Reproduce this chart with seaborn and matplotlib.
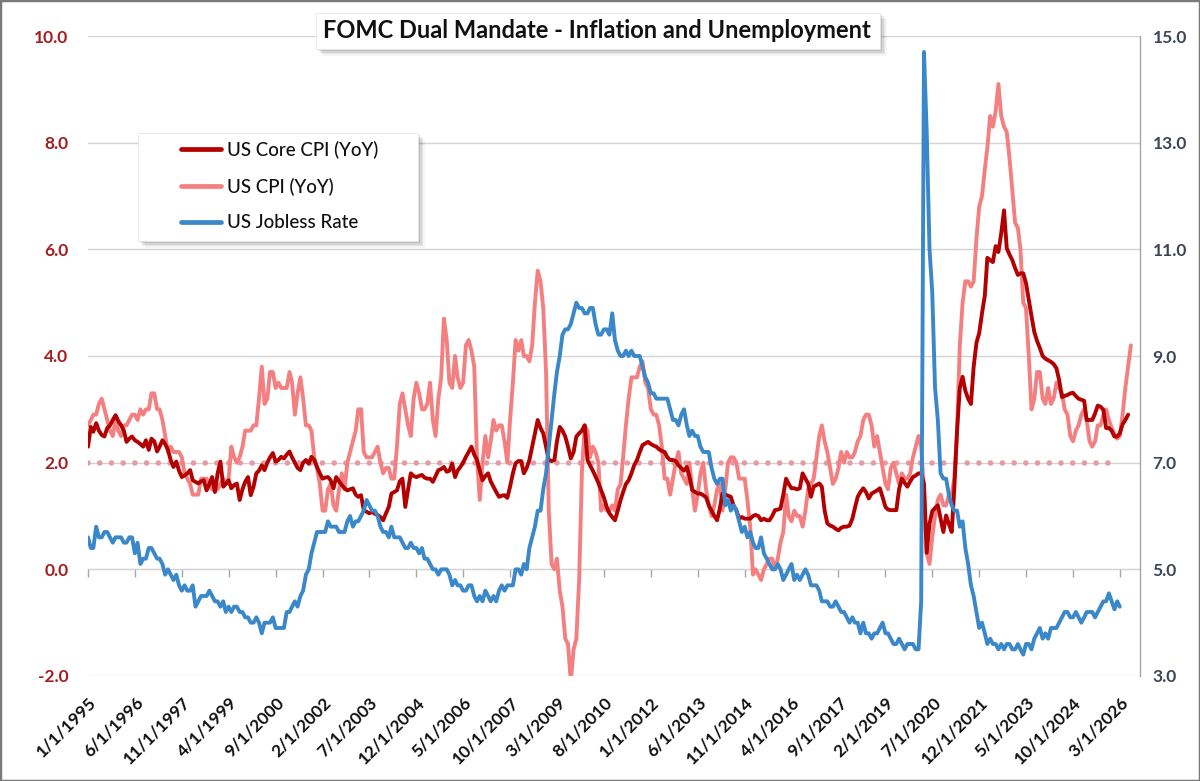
import numpy as np
import pandas as pd
import matplotlib
matplotlib.use("Agg")
import matplotlib.pyplot as plt
import matplotlib.dates as mdates
from matplotlib.patches import Rectangle
from matplotlib.lines import Line2D
import seaborn as sns

# Series titles
core_label = "US Core CPI (YoY)"
cpi_label = "US CPI (YoY)"
jobless_label = "US Jobless Rate"
chart_title = "FOMC Dual Mandate - Inflation and Unemployment"

# US Core CPI (YoY), monthly from Jan 1995
core_cpi = (
    [2.30, 2.67, 2.58, 2.74, 2.60, 2.52, 2.49, 2.65, 2.70, 2.80, 2.89, 2.78]    # 1995
    + [2.70, 2.60, 2.39, 2.45, 2.49, 2.42, 2.39, 2.35, 2.30, 2.42, 2.24, 2.45]  # 1996
    + [2.40, 2.21, 2.30, 2.42, 2.35, 2.24, 2.05, 1.92, 2.02, 1.85, 1.73, 1.76]  # 1997
    + [1.80, 1.86, 1.67, 1.64, 1.61, 1.65, 1.67, 1.48, 1.60, 1.73, 1.45, 1.80]  # 1998
    + [2.02, 1.55, 1.60, 1.67, 1.52, 1.58, 1.61, 1.30, 1.50, 1.64, 1.73, 1.39]  # 1999
    + [1.55, 1.80, 1.85, 1.95, 1.86, 2.00, 2.10, 2.18, 2.02, 2.05, 2.11, 2.08]  # 2000
    + [2.15, 2.21, 2.10, 2.00, 1.90, 1.86, 2.00, 2.05, 1.98, 2.11, 2.05, 1.92]  # 2001
    + [1.80, 1.70, 1.72, 1.73, 1.67, 1.52, 1.73, 1.65, 1.58, 1.52, 1.48, 1.50]  # 2002
    + [1.52, 1.40, 1.36, 1.39, 1.11, 1.08, 1.05, 1.08, 1.04, 1.02, 0.98, 0.92]  # 2003
    + [1.05, 1.17, 1.42, 1.45, 1.48, 1.65, 1.70, 1.17, 1.50, 1.80, 1.75, 1.73]  # 2004
    + [1.75, 1.77, 1.72, 1.70, 1.70, 1.64, 1.75, 1.86, 1.88, 1.92, 1.83, 1.85]  # 2005
    + [1.98, 1.73, 1.85, 1.92, 2.00, 2.11, 2.20, 2.30, 2.15, 2.05, 1.85, 1.67]  # 2006
    + [1.75, 1.80, 1.65, 1.55, 1.45, 1.36, 1.38, 1.39, 1.34, 1.55, 1.80, 1.99]  # 2007
    + [2.03, 2.03, 1.80, 1.90, 2.05, 2.30, 2.55, 2.80, 2.65, 2.55, 2.30, 2.05]  # 2008
    + [2.03, 2.05, 2.40, 2.67, 2.60, 2.49, 2.30, 2.08, 2.20, 2.49, 2.55, 2.60]  # 2009
    + [2.70, 2.05, 1.95, 1.85, 1.74, 1.62, 1.49, 1.35, 1.17, 1.05, 0.98, 0.92]  # 2010
    + [1.10, 1.30, 1.45, 1.60, 1.67, 1.80, 1.95, 2.05, 2.20, 2.33, 2.36, 2.39]  # 2011
    + [2.35, 2.32, 2.30, 2.25, 2.22, 2.20, 2.10, 2.05, 2.05, 2.03, 1.95, 1.90]  # 2012
    + [1.85, 1.92, 1.75, 1.49, 1.45, 1.42, 1.42, 1.39, 1.35, 1.20, 1.10, 1.00]  # 2013
    + [0.92, 1.15, 1.42, 1.40, 1.38, 1.36, 1.20, 1.11, 0.95, 0.98, 0.95, 0.95]  # 2014
    + [0.95, 1.00, 1.02, 1.00, 0.92, 0.95, 0.92, 0.92, 1.00, 1.11, 1.12, 1.14]  # 2015
    + [1.40, 1.70, 1.60, 1.52, 1.52, 1.50, 1.52, 1.80, 1.70, 1.61, 1.36, 1.55]  # 2016
    + [1.58, 1.61, 1.55, 1.10, 0.86, 0.82, 0.80, 0.76, 0.73, 0.78, 0.80, 0.80]  # 2017
    + [0.82, 0.95, 1.15, 1.36, 1.45, 1.52, 1.45, 1.33, 1.42, 1.45, 1.48, 1.52]  # 2018
    + [1.35, 1.17, 1.12, 1.11, 1.11, 1.11, 1.50, 1.70, 1.62, 1.55, 1.65, 1.73]  # 2019
    + [1.76, 1.80, 1.80, 1.60, 0.31, 0.85, 1.09, 1.15, 1.20, 0.95, 0.70, 1.01]  # 2020
    + [0.85, 0.70, 1.50, 2.60, 3.40, 3.61, 3.35, 3.20, 3.10, 3.80, 4.25, 4.43]  # 2021
    + [4.80, 5.13, 5.84, 5.80, 5.76, 6.06, 5.95, 6.30, 6.73, 6.02, 5.90, 5.80]  # 2022
    + [5.65, 5.52, 5.55, 5.55, 5.37, 5.05, 4.75, 4.45, 4.28, 4.15, 4.00, 3.95]  # 2023
    + [3.92, 3.89, 3.85, 3.77, 3.55, 3.23, 3.25, 3.27, 3.30, 3.31, 3.25, 3.20]  # 2024
    + [3.18, 3.16, 2.80, 2.80, 2.80, 2.92, 3.07, 3.05, 2.99, 2.65, 2.65, 2.60]  # 2025
    + [2.49, 2.49, 2.55, 2.72, 2.80, 2.90]                                      # 2026
)

# US CPI (YoY), monthly from Jan 1995 (series runs one month behind the label)
headline_cpi = (
    [2.7]
    + [2.8, 2.9, 2.9, 3.1, 3.2, 3.0, 2.8, 2.6, 2.5, 2.8, 2.6, 2.5]
    + [2.7, 2.7, 2.8, 2.9, 2.9, 2.8, 3.0, 2.9, 3.0, 3.0, 3.3, 3.3]
    + [3.0, 3.0, 2.8, 2.5, 2.2, 2.3, 2.2, 2.2, 2.2, 2.1, 1.8, 1.7]
    + [1.6, 1.4, 1.4, 1.4, 1.7, 1.7, 1.7, 1.6, 1.5, 1.5, 1.5, 1.6]
    + [1.7, 1.6, 1.7, 2.3, 2.1, 2.0, 2.1, 2.3, 2.6, 2.6, 2.6, 2.7]
    + [2.7, 3.2, 3.8, 3.1, 3.2, 3.7, 3.7, 3.4, 3.5, 3.4, 3.4, 3.4]
    + [3.7, 3.5, 2.9, 3.3, 3.6, 3.2, 2.7, 2.7, 2.6, 2.1, 1.9, 1.6]
    + [1.1, 1.1, 1.5, 1.6, 1.2, 1.1, 1.5, 1.8, 1.5, 2.0, 2.2, 2.4]
    + [2.6, 3.0, 3.0, 2.2, 2.1, 2.1, 2.1, 2.2, 2.3, 2.0, 1.8, 1.9]
    + [1.9, 1.7, 1.7, 2.3, 3.1, 3.3, 3.0, 2.7, 2.5, 3.2, 3.5, 3.3]
    + [3.0, 3.0, 3.1, 3.5, 2.8, 2.5, 3.2, 3.6, 4.7, 4.3, 3.5, 3.4]
    + [4.0, 3.6, 3.4, 3.5, 4.2, 4.3, 4.1, 3.8, 2.1, 1.3, 2.0, 2.5]
    + [2.1, 2.4, 2.8, 2.6, 2.7, 2.7, 2.4, 2.0, 2.8, 3.5, 4.3, 4.1]
    + [4.3, 4.0, 4.0, 3.9, 4.2, 5.0, 5.6, 5.4, 4.9, 3.7, 1.1, 0.1]
    + [0.0, 0.2, -0.4, -0.7, -1.3, -1.4, -2.1, -1.5, -1.3, -0.2, 1.8, 2.7]
    + [2.6, 2.1, 2.3, 2.2, 2.0, 1.1, 1.2, 1.1, 1.1, 1.2, 1.1, 1.5]
    + [1.6, 2.1, 2.7, 3.2, 3.6, 3.6, 3.6, 3.8, 3.9, 3.5, 3.4, 3.0]
    + [2.9, 2.9, 2.7, 2.3, 1.7, 1.7, 1.4, 1.7, 2.0, 2.2, 1.8, 1.7]
    + [1.6, 2.0, 1.5, 1.1, 1.4, 1.8, 2.0, 1.5, 1.2, 1.0, 1.2, 1.5]
    + [1.6, 1.1, 1.5, 2.0, 2.1, 2.1, 2.0, 1.7, 1.7, 1.7, 1.3, 0.8]
    + [-0.1, 0.0, -0.1, -0.2, 0.0, 0.1, 0.2, 0.2, 0.0, 0.2, 0.5, 0.7]
    + [1.4, 1.0, 0.9, 1.1, 1.0, 1.0, 0.8, 1.1, 1.5, 1.6, 1.7, 2.1]
    + [2.5, 2.7, 2.4, 2.2, 1.9, 1.6, 1.7, 1.9, 2.2, 2.0, 2.2, 2.1]
    + [2.1, 2.2, 2.4, 2.5, 2.8, 2.9, 2.9, 2.7, 2.3, 2.5, 2.2, 1.9]
    + [1.6, 1.5, 1.9, 2.0, 1.8, 1.6, 1.8, 1.7, 1.7, 1.8, 2.1, 2.3]
    + [2.5, 2.3, 1.5, 0.3, 0.1, 0.6, 1.0, 1.3, 1.4, 1.2, 1.2, 1.4]
    + [1.4, 1.7, 2.6, 4.2, 5.0, 5.4, 5.4, 5.3, 5.4, 6.2, 6.8, 7.0]
    + [7.5, 7.9, 8.5, 8.3, 8.6, 9.1, 8.5, 8.3, 8.2, 7.7, 7.1, 6.5]
    + [6.4, 6.0, 5.0, 4.9, 4.0, 3.0, 3.2, 3.7, 3.7, 3.2, 3.1, 3.4]
    + [3.1, 3.2, 3.5, 3.4, 3.3, 3.0, 2.9, 2.5, 2.4, 2.6, 2.7, 2.9]
    + [3.0, 2.8, 2.4, 2.3, 2.4, 2.7, 2.7, 2.9, 3.0, 2.8, 2.65, 2.55]
    + [2.45, 2.5, 2.9, 3.4, 3.8, 4.2]
)

# US unemployment rate (%), monthly from Jan 1995
jobless_rate = (
    [5.6, 5.4, 5.4, 5.8, 5.6, 5.6, 5.7, 5.7, 5.6, 5.5, 5.6, 5.6]
    + [5.6, 5.5, 5.5, 5.6, 5.6, 5.3, 5.5, 5.1, 5.2, 5.2, 5.4, 5.4]
    + [5.3, 5.2, 5.2, 5.1, 4.9, 5.0, 4.9, 4.8, 4.9, 4.7, 4.6, 4.7]
    + [4.6, 4.6, 4.7, 4.3, 4.4, 4.5, 4.5, 4.5, 4.6, 4.5, 4.4, 4.4]
    + [4.3, 4.4, 4.2, 4.3, 4.2, 4.3, 4.3, 4.2, 4.2, 4.1, 4.1, 4.0]
    + [4.0, 4.1, 4.0, 3.8, 4.0, 4.0, 4.0, 4.1, 3.9, 3.9, 3.9, 3.9]
    + [4.2, 4.2, 4.3, 4.4, 4.3, 4.5, 4.6, 4.9, 5.0, 5.3, 5.5, 5.7]
    + [5.7, 5.7, 5.7, 5.9, 5.8, 5.8, 5.8, 5.7, 5.7, 5.7, 5.9, 6.0]
    + [5.8, 5.9, 5.9, 6.0, 6.1, 6.3, 6.2, 6.1, 6.1, 6.0, 5.8, 5.7]
    + [5.7, 5.6, 5.8, 5.6, 5.6, 5.6, 5.5, 5.4, 5.4, 5.5, 5.4, 5.4]
    + [5.3, 5.4, 5.2, 5.2, 5.1, 5.0, 5.0, 4.9, 5.0, 5.0, 5.0, 4.9]
    + [4.7, 4.8, 4.7, 4.7, 4.6, 4.6, 4.7, 4.7, 4.5, 4.4, 4.5, 4.4]
    + [4.6, 4.5, 4.4, 4.5, 4.4, 4.6, 4.7, 4.6, 4.7, 4.7, 4.7, 5.0]
    + [5.0, 4.9, 5.1, 5.0, 5.4, 5.6, 5.8, 6.1, 6.1, 6.5, 6.8, 7.3]
    + [7.8, 8.3, 8.7, 9.0, 9.4, 9.5, 9.5, 9.6, 9.8, 10.0, 9.9, 9.9]
    + [9.8, 9.8, 9.9, 9.9, 9.6, 9.4, 9.4, 9.5, 9.5, 9.4, 9.8, 9.3]
    + [9.1, 9.0, 9.0, 9.1, 9.0, 9.1, 9.0, 9.0, 9.0, 8.8, 8.6, 8.5]
    + [8.3, 8.3, 8.2, 8.2, 8.2, 8.2, 8.2, 8.0, 7.8, 7.8, 7.7, 7.9]
    + [8.0, 7.7, 7.5, 7.6, 7.5, 7.5, 7.3, 7.2, 7.2, 7.2, 6.9, 6.7]
    + [6.6, 6.7, 6.7, 6.2, 6.3, 6.1, 6.2, 6.1, 5.9, 5.7, 5.8, 5.6]
    + [5.7, 5.5, 5.4, 5.4, 5.6, 5.3, 5.2, 5.1, 5.0, 5.0, 5.1, 5.0]
    + [4.8, 4.9, 5.0, 5.1, 4.8, 4.9, 4.8, 4.9, 5.0, 4.9, 4.7, 4.7]
    + [4.7, 4.6, 4.4, 4.4, 4.4, 4.3, 4.3, 4.4, 4.3, 4.2, 4.2, 4.1]
    + [4.0, 4.1, 4.0, 4.0, 3.8, 4.0, 3.8, 3.8, 3.7, 3.8, 3.8, 3.9]
    + [4.0, 3.8, 3.8, 3.7, 3.6, 3.6, 3.7, 3.6, 3.5, 3.6, 3.6, 3.6]
    + [3.5, 3.5, 4.4, 14.7, 13.2, 11.0, 10.2, 8.4, 7.8, 6.8, 6.7, 6.7]
    + [6.4, 6.2, 6.1, 6.1, 5.8, 5.9, 5.4, 5.1, 4.7, 4.5, 4.2, 3.9]
    + [4.0, 3.8, 3.6, 3.7, 3.6, 3.6, 3.5, 3.6, 3.5, 3.6, 3.6, 3.5]
    + [3.5, 3.6, 3.5, 3.4, 3.6, 3.6, 3.5, 3.7, 3.8, 3.9, 3.7, 3.8]
    + [3.7, 3.9, 3.9, 3.9, 4.0, 4.1, 4.2, 4.2, 4.1, 4.1, 4.2, 4.1]
    + [4.0, 4.1, 4.2, 4.2, 4.2, 4.1, 4.2, 4.3, 4.4, 4.4, 4.55, 4.4]
    + [4.25, 4.4, 4.3]
)

first_month = "1995-01-01"
fed_target = 2.0
target_end = "2025-12-15"
tick_dates = pd.date_range("1995-01-01", "2026-03-01", freq="17MS")
tick_labels = [f"{d.month}/{d.day}/{d.year}" for d in tick_dates]
left_ticks = [-2, 0, 2, 4, 6, 8, 10]
right_ticks = [3, 5, 7, 9, 11, 13, 15]

core_dates = pd.date_range(first_month, periods=len(core_cpi), freq="MS")
cpi_dates = pd.date_range(first_month, periods=len(headline_cpi), freq="MS")
jobless_dates = pd.date_range(first_month, periods=len(jobless_rate), freq="MS")

CORE_COLOR = "#B30000"
CPI_COLOR = "#F47F80"
JOBLESS_COLOR = "#3A88C9"
TARGET_COLOR = "#E79AA6"

sns.set_style("white")
plt.rcParams["font.family"] = ["Lato", "DejaVu Sans"]

W, H = 1200, 781
fig = plt.figure(figsize=(12, 7.81), dpi=100)
ax = fig.add_axes([88 / W, 1 - 676 / H, (1140 - 88) / W, 640 / H])
ax2 = ax.twinx()

# 2% target line
ax.plot(pd.to_datetime([first_month, target_end]), [fed_target, fed_target],
        color=TARGET_COLOR, lw=4.0, linestyle=(0, (0.01, 2.1)),
        dash_capstyle="round", zorder=2)

line_kw = dict(lw=2.8, estimator=None, legend=False,
               solid_joinstyle="round", solid_capstyle="round")
sns.lineplot(x=cpi_dates, y=headline_cpi, ax=ax, color=CPI_COLOR, zorder=3, **line_kw)
sns.lineplot(x=core_dates, y=core_cpi, ax=ax, color=CORE_COLOR, zorder=4, **line_kw)
sns.lineplot(x=jobless_dates, y=jobless_rate, ax=ax2, color=JOBLESS_COLOR, zorder=3, **line_kw)

ax.set_xlim(pd.Timestamp(first_month), pd.Timestamp("2026-10-10"))
ax.set_ylim(left_ticks[0], left_ticks[-1])
ax2.set_ylim(right_ticks[0], right_ticks[-1])

ax.set_yticks(left_ticks)
ax.set_yticklabels([f"{v:.1f}" for v in left_ticks], fontweight="bold")
ax.tick_params(axis="y", length=0, pad=14, labelsize=12.5, labelcolor="#A31F1F")
ax2.set_yticks(right_ticks)
ax2.set_yticklabels([f"{v:.1f}" for v in right_ticks], fontweight="bold")
ax2.tick_params(axis="y", length=0, pad=9, labelsize=12.5, labelcolor="#3B4656")

ax.set_xticks(tick_dates)
ax.set_xticklabels(tick_labels, rotation=45, ha="right", va="top",
                   rotation_mode="anchor", fontweight="bold")
ax.tick_params(axis="x", length=0, pad=13, labelsize=12.5, labelcolor="#111111")

ax.set_xlabel("")
ax.set_ylabel("")
ax2.set_ylabel("")
ax.grid(axis="y", color="#D3D3D3", lw=1)
ax.grid(axis="x", visible=False)
ax.set_axisbelow(True)
for s in ax.spines.values():
    s.set_visible(False)
for name, s in ax2.spines.items():
    s.set_visible(name == "right")
ax2.spines["right"].set_color("#A6A6A6")
ax2.spines["right"].set_linewidth(1)

# category axis crosses at 0 on the left scale
zero_pos = (0 - left_ticks[0]) / (left_ticks[-1] - left_ticks[0])
sec = ax.secondary_xaxis(zero_pos)
sec.set_xticks(mdates.date2num(tick_dates))
sec.tick_params(axis="x", length=6, width=1, color="#A6A6A6", labelbottom=False, labeltop=False)
for s in sec.spines.values():
    s.set_color("#D3D3D3")


def shadow_box(x0, y0, x1, y1):
    for i, a in enumerate([0.10, 0.08, 0.06, 0.04]):
        off = 2 + i * 1.5
        fig.patches.append(Rectangle(((x0 + off) / W, 1 - (y1 + off) / H),
                                     (x1 - x0) / W, (y1 - y0) / H,
                                     transform=fig.transFigure, facecolor="black",
                                     edgecolor="none", alpha=a, zorder=1))
    fig.patches.append(Rectangle((x0 / W, 1 - y1 / H), (x1 - x0) / W, (y1 - y0) / H,
                                 transform=fig.transFigure, facecolor="white",
                                 edgecolor="#E6E6E6", lw=0.6, zorder=2))


# title box
shadow_box(316, 13, 880, 49)
fig.text(597 / W, 1 - 31 / H, chart_title, ha="center", va="center",
         fontsize=17, fontweight="bold", color="#111111", zorder=6)

# legend box
shadow_box(138, 133, 418, 241)
handles = [Line2D([], [], color=c, lw=3.4) for c in (CORE_COLOR, CPI_COLOR, JOBLESS_COLOR)]
leg = fig.legend(handles, [core_label, cpi_label, jobless_label], loc="upper left",
                 bbox_to_anchor=(181 / W, 1 - 141 / H), frameon=False,
                 fontsize=13.5, handlelength=2.15, handletextpad=0.3,
                 labelspacing=1.0, borderpad=0, borderaxespad=0)
leg.set_zorder(7)
for t in leg.get_texts():
    t.set_color("#111111")
    t.set_fontweight("medium")

# outer frame
fig.patches.append(Rectangle((0, 0), 1, 1, transform=fig.transFigure, fill=False,
                             edgecolor="#7A7A7A", lw=2.5, zorder=8))

fig.savefig("out.png", dpi=100)
